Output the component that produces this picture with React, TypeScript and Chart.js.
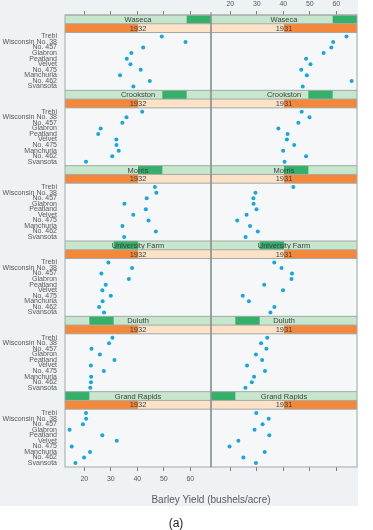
import React, { useEffect, useRef } from "react";
import { Chart, registerables } from "chart.js";

Chart.register(...registerables);

// Varieties listed bottom -> top
const varieties = ["Svansota", "No. 462", "Manchuria", "No. 475", "Velvet", "Peatland", "Glabron", "No. 457", "Wisconsin No. 38", "Trebi"];
const sites = ["Waseca", "Crookston", "Morris", "University Farm", "Duluth", "Grand Rapids"];
const years = ["1932", "1931"];
const yieldTicks = [20, 30, 40, 50, 60];
const axisTitle = "Barley Yield (bushels/acre)";
const caption = "(a)";

// yields (bushels/acre), in the variety order above
const waseca1932 = [38.5, 44.7, 33.47, 41.27, 37.4, 36.03, 37.73, 42.2, 58.17, 49.23];
const waseca1931 = [47.33, 65.77, 48.87, 46.77, 50.23, 48.57, 55.2, 58.1, 58.8, 63.83];
const crookston1932 = [20.63, 30.53, 32.97, 32.13, 32.07, 25.23, 26.17, 34.33, 35.9, 41.83];
const crookston1931 = [40.47, 48.57, 39.93, 44.1, 41.33, 41.6, 38.13, 45.67, 49.87, 46.93];
const morris1932 = [35.03, 47.0, 34.37, 44.23, 38.47, 43.2, 35.13, 43.53, 47.17, 46.63];
const morris1931 = [25.77, 30.37, 27.43, 22.6, 26.13, 29.87, 28.77, 28.7, 29.47, 43.77];
const univFarm1932 = [27.43, 25.57, 26.9, 30.0, 26.8, 28.07, 36.8, 26.43, 38.0, 29.07];
const univFarm1931 = [35.13, 36.6, 27.0, 24.67, 39.9, 32.77, 43.07, 43.27, 39.3, 36.57];
const duluth1932 = [22.23, 22.5, 22.57, 27.37, 22.47, 31.37, 25.87, 22.7, 29.33, 30.6];
const duluth1931 = [25.7, 28.1, 28.97, 33.07, 26.3, 32.0, 29.67, 33.6, 31.6, 33.93];
const grandRapids1932 = [16.63, 19.9, 22.13, 15.23, 32.23, 26.77, 14.43, 19.47, 20.67, 20.63];
const grandRapids1931 = [29.67, 24.93, 32.97, 19.7, 23.03, 34.7, 29.13, 32.17, 34.47, 29.77];

const seriesBySite = [
  [waseca1932, waseca1931],
  [crookston1932, crookston1931],
  [morris1932, morris1931],
  [univFarm1932, univFarm1931],
  [duluth1932, duluth1931],
  [grandRapids1932, grandRapids1931],
];

const X_MIN = 12.7;
const X_MAX = 67.8;
const Y_MIN = 0.3;
const Y_MAX = 10.7;
const FONT = "'Liberation Sans', Arial, Helvetica, sans-serif";

const trellisPlugin = {
  id: "trellis",
  beforeDraw(chart: any) {
    const { ctx, chartArea: a } = chart;
    ctx.save();
    ctx.fillStyle = "#eff2f4";
    ctx.fillRect(0, 0, 358, 506);
    ctx.fillStyle = "#f5f7f9";
    ctx.fillRect(a.left, a.top, a.right - a.left, a.bottom - a.top);
    ctx.restore();
  },
  afterDraw(chart: any) {
    const { ctx, chartArea: a } = chart;
    const cols = [chart.scales.xBL, chart.scales.xBR];
    const line = (x1: number, y1: number, x2: number, y2: number) => {
      ctx.beginPath();
      ctx.moveTo(x1, y1);
      ctx.lineTo(x2, y2);
      ctx.stroke();
    };
    ctx.save();
    sites.forEach((site, i) => {
      const s = chart.scales[`s${i}`];
      const top = s.top;
      const bot = s.bottom;
      const mid = (top + bot) / 2;
      const level = sites.length - i;
      cols.forEach((xs: any, j: number) => {
        const L = xs.left;
        const W = xs.right - xs.left;
        const seg = W / sites.length;
        ctx.fillStyle = "#c6e6cd";
        ctx.fillRect(L, top, W, mid - top);
        ctx.fillStyle = "#35b06a";
        ctx.fillRect(L + (level - 1) * seg, top, seg, mid - top);
        ctx.fillStyle = "#fde2c7";
        ctx.fillRect(L, mid, W, bot - mid);
        const half = W / years.length;
        ctx.fillStyle = "#f5873a";
        ctx.fillRect(L + j * half, mid, half, bot - mid);
        ctx.fillStyle = "#3b3f3d";
        ctx.font = `7.5px ${FONT}`;
        ctx.textAlign = "center";
        ctx.textBaseline = "middle";
        ctx.fillText(site, L + W / 2, (top + mid) / 2 + 0.5);
        ctx.fillText(years[j], L + W / 2, (mid + bot) / 2 + 0.5);
      });
      ctx.strokeStyle = "#a2aaa6";
      ctx.lineWidth = 1;
      [top, mid, bot].forEach((y) => line(a.left, y, a.right, y));
    });
    ctx.strokeStyle = "#a2aaa6";
    ctx.lineWidth = 1;
    cols.forEach((xs: any) => {
      ctx.strokeRect(xs.left, a.top, xs.right - xs.left, a.bottom - a.top);
    });
    ctx.strokeStyle = "#7f8884";
    line(cols[0].right, a.top - 3, cols[0].right, a.bottom);

    ctx.fillStyle = "#555a58";
    ctx.font = `10px ${FONT}`;
    ctx.textAlign = "center";
    ctx.textBaseline = "middle";
    ctx.fillText(axisTitle, (a.left + a.right) / 2, 500);
    ctx.fillStyle = "#222";
    ctx.font = `12px ${FONT}`;
    ctx.fillText(caption, 176, 524);
    ctx.restore();
  },
};

function xAxis(position: string, stack: string, weight: number, showLabels: boolean) {
  return {
    type: "linear",
    position,
    stack,
    weight,
    min: X_MIN,
    max: X_MAX,
    afterBuildTicks: (s: any) => {
      s.ticks = yieldTicks.map((v) => ({ value: v }));
    },
    ticks: {
      display: showLabels,
      autoSkip: false,
      maxRotation: 0,
      font: { family: FONT, size: 7 },
      color: "#555a58",
      padding: position === "top" ? 3 : 4,
    },
    grid: { drawOnChartArea: false, drawTicks: true, tickLength: 4, color: "#7a8380", lineWidth: 1 },
    border: { display: false },
    afterFit: (s: any) => {
      s.height = position === "top" ? 15 : 20;
    },
  };
}

export default function App() {
  const ref = useRef<HTMLCanvasElement>(null);
  useEffect(() => {
    const canvas = ref.current;
    if (!canvas) return;
    const datasets: any[] = [];
    sites.forEach((site, i) => {
      years.forEach((yr, j) => {
        datasets.push({
          label: `${site} ${yr}`,
          data: seriesBySite[i][j].map((v, k) => ({ x: v, y: k + 1 })),
          xAxisID: j === 0 ? "xBL" : "xBR",
          yAxisID: `y${i}`,
          pointRadius: 2,
          pointHoverRadius: 2,
          backgroundColor: "#16a6e0",
          borderWidth: 0,
          showLine: false,
        });
      });
    });

    const n = sites.length;
    const scales: any = {
      xTL: xAxis("top", "xt", 2, false),
      xTR: xAxis("top", "xt", 1, true),
    };
    sites.forEach((site, i) => {
      scales[`s${i}`] = {
        type: "linear",
        position: "left",
        stack: "y",
        stackWeight: 17.5,
        weight: 2 * (n - i),
        min: 0,
        max: 1,
        display: false,
        afterFit: (s: any) => {
          s.width = 65;
        },
      };
      scales[`y${i}`] = {
        type: "linear",
        position: "left",
        stack: "y",
        stackWeight: 57.8,
        weight: 2 * (n - i) - 1,
        min: Y_MIN,
        max: Y_MAX,
        afterBuildTicks: (s: any) => {
          s.ticks = varieties.map((_, k) => ({ value: k + 1 }));
        },
        ticks: {
          autoSkip: false,
          padding: 8,
          font: { family: FONT, size: 7 },
          color: "#555a58",
          callback: (v: any) => varieties[Math.round(v) - 1] ?? "",
        },
        grid: { display: false, drawTicks: false },
        border: { display: false },
        afterFit: (s: any) => {
          s.width = 65;
        },
      };
    });
    scales.xBL = xAxis("bottom", "xb", 1, true);
    scales.xBR = xAxis("bottom", "xb", 2, false);

    const chart = new Chart(canvas, {
      type: "scatter",
      data: { datasets },
      options: {
        animation: false,
        responsive: false,
        events: [],
        layout: { padding: { top: 0, left: 0, right: 16, bottom: 43 } },
        plugins: { legend: { display: false }, tooltip: { enabled: false }, title: { display: false } },
        scales,
      } as any,
      plugins: [trellisPlugin],
    });
    return () => chart.destroy();
  }, []);

  return (
    <div style={{ position: "absolute", left: 0, top: 0, width: 373, height: 530, background: "#fff" }}>
      <canvas ref={ref} width={373} height={530} style={{ display: "block" }} />
    </div>
  );
}
